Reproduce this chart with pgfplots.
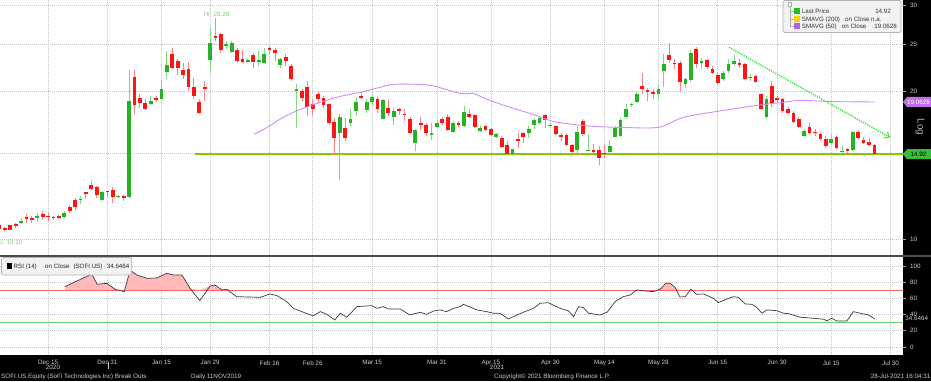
\documentclass[border=0pt]{standalone}
\usepackage{fontspec}
\setmainfont{Liberation Sans}
\usepackage{pgfplots}
\usepackage{pgfplotstable}
\pgfplotsset{compat=1.18}
\usetikzlibrary{arrows.meta}

\definecolor{bodyup}{RGB}{38,178,38}
\definecolor{bodydn}{RGB}{255,20,20}
\definecolor{wickup}{RGB}{130,215,130}
\definecolor{wickdn}{RGB}{255,130,130}
\definecolor{smac}{RGB}{205,140,255}
\definecolor{suppc}{RGB}{135,200,0}
\definecolor{trendc}{RGB}{60,230,60}
\definecolor{gridc}{RGB}{195,195,195}
\definecolor{tickc}{RGB}{205,205,205}
\definecolor{rsiline}{RGB}{60,60,60}
\definecolor{rsifill}{RGB}{255,185,185}
\definecolor{hilo}{RGB}{120,210,120}

\newcommand{\sm}{\fontsize{6.3pt}{7pt}\selectfont}
\newcommand{\lgdfont}{\fontsize{6.2pt}{7pt}\selectfont}

\pgfplotstableread{
x o h l c
-9 10.68 10.81 10.45 10.52
-8 10.56 10.60 10.40 10.45
-7 10.68 10.72 10.44 10.48
-6 10.74 10.81 10.56 10.65
-5 10.81 11.05 10.78 10.92
-4 11.10 11.28 10.81 11.02
-3 11.07 11.19 10.81 10.95
-2 11.07 11.34 10.85 11.16
-1 11.25 11.42 10.98 11.13
0 11.19 11.34 10.90 11.10
1 11.13 11.19 10.95 11.04
2 11.14 11.20 11.00 11.05
3 11.13 11.42 11.05 11.30
4 11.64 11.73 11.34 11.42
5 12.02 12.14 11.47 11.66
6 12.02 12.26 11.80 12.10
7 12.47 12.50 12.08 12.39
8 12.93 13.13 12.60 12.69
9 12.81 12.88 12.14 12.35
10 12.03 12.55 11.97 12.48
11 12.56 12.58 12.20 12.48
12 12.64 12.81 11.88 12.22
13 12.19 12.30 12.15 12.26
14 12.24 12.31 11.97 12.14
15 12.22 22.11 12.15 19.14
16 21.47 22.10 17.98 18.76
17 19.41 19.76 18.54 19.00
18 19.00 19.30 18.34 18.47
19 18.91 19.60 18.76 19.14
20 19.44 19.60 19.05 19.24
21 19.36 21.13 19.30 20.22
22 21.94 24.20 21.20 22.64
23 23.91 24.60 22.21 22.32
24 23.05 23.35 21.60 22.40
25 22.14 22.91 21.20 21.63
26 22.20 22.98 20.06 20.48
27 20.45 21.37 19.30 19.60
28 19.08 19.30 17.99 18.12
29 20.45 21.03 19.14 20.30
30 23.20 27.02 21.87 25.18
31 25.97 28.26 25.37 25.71
32 26.19 26.40 24.03 24.32
33 24.83 25.37 24.48 25.06
34 24.09 25.37 24.03 25.18
35 24.32 24.57 22.91 23.10
36 23.37 24.37 22.91 23.04
37 23.04 23.35 22.90 23.20
38 23.72 23.95 22.40 23.04
39 23.04 24.20 22.61 23.19
40 22.93 24.57 22.82 23.91
41 24.57 24.80 23.84 24.32
42 24.37 24.50 23.10 23.95
43 22.63 23.45 22.40 23.27
44 23.58 23.84 22.61 23.10
45 22.61 22.74 21.03 21.27
46 20.03 20.72 16.89 20.22
47 20.06 20.30 19.14 19.39
48 20.48 21.00 17.84 18.64
49 18.91 19.30 17.84 18.47
50 19.82 19.98 19.00 19.30
51 19.39 19.60 18.54 18.76
52 18.85 19.00 17.15 17.24
53 17.35 17.71 14.83 16.12
54 16.45 17.99 13.21 17.79
55 16.89 17.71 15.86 16.12
56 17.24 18.41 17.02 17.57
57 18.26 19.55 17.84 19.09
58 19.60 19.98 19.30 19.39
59 18.34 19.36 18.12 19.05
60 19.05 19.76 18.76 19.55
61 19.36 19.55 18.12 18.47
62 17.63 19.36 17.57 19.21
63 18.54 19.36 17.84 18.12
64 17.79 18.54 17.12 18.27
65 18.47 18.54 17.91 18.27
66 17.99 18.41 17.43 17.91
67 17.63 17.79 16.37 16.50
68 15.69 16.81 15.13 16.68
69 17.24 17.79 16.71 17.07
70 17.07 17.24 16.24 16.50
71 16.29 17.29 15.93 16.50
72 16.97 17.43 16.89 17.24
73 17.63 17.79 17.15 17.29
74 17.79 17.99 16.62 16.71
75 16.55 17.43 16.50 17.29
76 17.29 17.43 16.97 17.15
77 17.02 18.70 16.97 18.18
78 17.99 18.41 17.71 17.79
79 17.91 17.99 16.89 16.97
80 16.62 17.07 16.58 16.89
81 17.02 17.15 16.62 16.71
82 16.81 16.89 16.24 16.32
83 16.17 16.50 16.12 16.43
84 16.12 16.24 15.38 15.43
85 15.55 15.86 14.83 14.91
86 14.91 15.30 14.78 15.26
87 15.99 16.50 15.38 15.86
88 16.45 16.55 15.70 16.19
89 16.50 17.02 16.12 16.77
90 17.15 17.71 16.81 17.48
91 17.24 17.79 17.20 17.65
92 17.91 17.99 16.89 17.51
93 17.00 17.24 16.89 17.07
94 17.02 17.15 16.29 16.37
95 16.29 16.45 15.86 16.17
96 16.29 16.37 15.50 15.58
97 15.58 15.62 14.91 15.07
98 15.21 17.02 14.98 16.58
99 17.43 17.63 16.24 16.37
100 15.18 16.37 15.13 15.21
101 15.19 15.62 14.91 15.07
102 15.21 15.50 14.15 14.68
103 15.02 15.55 14.68 14.91
104 15.07 15.93 14.98 15.50
105 16.20 17.02 16.15 16.88
106 16.24 17.71 16.19 17.51
107 17.76 18.85 17.63 18.47
108 18.76 19.00 18.60 18.85
109 19.05 19.98 19.00 19.82
110 20.54 21.87 19.76 20.22
111 20.15 20.38 19.14 19.98
112 19.98 20.22 19.30 19.76
113 19.76 20.60 19.30 20.22
114 22.04 23.84 20.48 22.74
115 23.72 25.10 22.91 23.20
116 22.91 23.35 22.21 22.74
117 22.91 23.10 20.06 20.93
118 20.72 21.37 20.38 21.21
119 21.09 24.32 20.90 23.95
120 24.40 24.70 22.40 22.82
121 22.91 23.45 22.27 23.10
122 23.19 23.35 22.21 22.46
123 22.27 22.61 21.70 21.87
124 21.60 21.79 20.72 20.80
125 21.20 22.04 21.03 21.87
126 22.04 23.27 21.87 22.74
127 22.74 23.72 22.61 23.10
128 22.91 23.27 22.40 22.64
129 22.82 22.91 21.13 21.20
130 21.35 21.70 21.03 21.43
131 21.53 21.60 20.87 20.93
132 19.76 19.91 18.41 18.47
133 17.79 19.60 17.57 19.30
134 20.54 21.03 18.60 18.85
135 19.41 19.60 19.00 19.20
136 19.36 19.44 18.12 18.27
137 18.41 18.62 17.99 18.12
138 18.12 18.27 17.29 17.35
139 17.63 17.79 16.89 16.97
140 16.24 16.81 16.19 16.62
141 16.97 17.29 16.37 16.45
142 16.55 16.77 16.24 16.45
143 16.43 16.55 15.86 16.05
144 16.05 16.24 15.38 15.50
145 15.70 16.37 15.62 15.99
146 16.17 16.24 15.26 15.38
147 15.07 15.50 14.98 15.11
148 15.26 15.38 15.02 15.13
149 15.21 16.62 15.13 16.55
150 16.55 16.71 15.99 16.12
151 15.93 16.19 15.62 15.73
152 15.78 16.12 15.50 15.55
153 15.55 15.62 14.91 14.92
}\ohlc

\pgfplotstableread{
x s
38.1 16.37
40.6 16.92
43.5 17.73
46.7 18.41
50.4 19.03
54.1 19.57
57.8 19.94
61.5 20.42
64.3 20.71
70.7 20.61
76.3 19.84
78.7 19.84
81.3 19.30
85.0 18.67
89.8 17.98
93.5 17.40
97.2 17.16
100.9 17.00
105.9 16.92
113.0 16.92
117.6 17.73
123.9 18.24
131.3 18.76
136.1 19.03
139.3 19.21
145.0 19.10
153.1 19.06
}\sma

\pgfplotstableread{
x r
3.1 74.5
8.1 90
9.1 77.4
10.9 78.6
12.4 71.2
14.1 68.3
15.2 95
16.4 88.9
18.3 84.8
20.1 85.2
22.0 91
23.2 88.9
24.8 88.9
26.3 72.4
28.1 57.2
30.0 75.3
30.9 76.5
32.2 70.4
33.1 71.2
34.9 62.1
39.3 61.3
41.1 65.4
42.4 63.3
44.2 56
45.4 47.7
47.3 42.8
49.1 38.3
50.4 43.6
51.6 40.3
53.1 33.3
54.1 41.6
55.3 36.7
57.2 49.8
59.0 50.6
59.9 51
60.9 47.7
62.1 49.8
63.0 46.9
65.2 46.9
67.0 39.5
68.9 42.8
70.1 40.3
71.4 44.4
72.6 45.7
73.8 43.6
75.1 47.7
76.3 49.8
76.9 52.7
79.4 45.7
81.2 43.6
82.5 41.6
83.7 41.6
85.2 34.6
88.0 42.8
89.9 47.7
91.1 53.9
92.6 54.7
94.8 47.7
96.4 44.4
97.3 37.4
98.2 49.8
99.1 48.5
100.1 41.6
102.2 39.5
103.5 42.8
105.0 56
106.5 62.1
107.8 64.2
109.0 70.4
110.6 69.1
112.1 68.3
113.3 71.2
114.4 78.6
115.2 78.6
116.1 73.7
117.0 61.7
118.0 62.1
119.0 71.2
120.1 65
121.4 65.4
123.2 60.1
124.1 54.7
125.7 59.3
126.9 62.1
127.8 61.3
129.1 53.1
130.3 52.7
131.2 49
132.2 41.6
133.1 45.7
134.9 44.8
136.2 41.6
137.1 41.1
139.3 36.7
141.7 35.4
143.6 34.2
144.2 32.1
145.1 35.4
146.0 32.1
147.9 32.1
149.1 43.6
150.4 41.6
151.9 39.5
153.1 34.6464
}\rsi

\pgfplotstablegetrowsof{\ohlc}
\pgfmathtruncatemacro\lastrow{\pgfplotsretval-1}

\pgfplotsset{
  wickup/.style={color=wickup, line width=0.8pt, forget plot},
  wickdn/.style={color=wickdn, line width=0.8pt, forget plot},
  bodyup/.style={color=bodyup, line width=3.7pt, line cap=butt, forget plot},
  bodydn/.style={color=bodydn, line width=3.7pt, line cap=butt, forget plot},
  bbgrid/.style={
    scale only axis, width=903pt,
    xmin=-8.9, xmax=158.3,
    axis line style={draw=none},
    xtick={0,11,21,30,41,49,60,72,82,93,103,113,124,135,145,156},
    xtick style={draw=none},
    xmajorgrids, ymajorgrids,
    grid style={gridc, line width=0.6pt, dash pattern=on 0.8pt off 1.2pt},
    ytick pos=right, yticklabel pos=right,
    tick align=outside, major tick length=3pt,
    ytick style={draw=gray!70, line width=0.6pt},
    yticklabel style={font=\sm, text=tickc, xshift=0.5pt},
  },
}

\begin{document}
\begin{tikzpicture}
\useasboundingbox (0pt,0pt) rectangle (931pt,381pt);
\fill[black] (0pt,0pt) rectangle (931pt,381pt);
\fill[white] (0pt,26pt) rectangle (903pt,381pt);

% ---------- price panel ----------
\begin{axis}[bbgrid,
  at={(0pt,126pt)}, anchor=south west, height=255pt,
  ymode=log, ymin=9.30, ymax=30.75,
  ytick={10,15,20,25,30}, yticklabels={10,,20,25,30},
  yminorticks=false,
  xticklabels={},
]
\addplot[color=suppc, line width=2pt, forget plot] coordinates {(27.2,14.92) (158.3,14.92)};
\foreach \i in {0,...,\lastrow}{
  \pgfplotstablegetelem{\i}{x}\of\ohlc \let\cx\pgfplotsretval
  \pgfplotstablegetelem{\i}{o}\of\ohlc \let\co\pgfplotsretval
  \pgfplotstablegetelem{\i}{h}\of\ohlc \let\ch\pgfplotsretval
  \pgfplotstablegetelem{\i}{l}\of\ohlc \let\cl\pgfplotsretval
  \pgfplotstablegetelem{\i}{c}\of\ohlc \let\cc\pgfplotsretval
  \ifdim\cc pt>\co pt \def\kind{up}\else\def\kind{dn}\fi
  \edef\temp{\noexpand\addplot[wick\kind] coordinates {(\cx,\cl) (\cx,\ch)};
    \noexpand\addplot[body\kind] coordinates {(\cx,\co) (\cx,\cc)};}
  \temp
}
\addplot[color=smac, line width=0.9pt, smooth, forget plot] table[x=x, y=s] {\sma};
\addplot[color=trendc, line width=1.5pt, dash pattern=on 1.2pt off 1.2pt,
  -{Straight Barb[length=4pt, width=7pt, line width=1pt]}, forget plot]
  coordinates {(126.1,24.63) (155.9,16.14)};
\end{axis}

% ---------- RSI panel ----------
\begin{axis}[bbgrid,
  at={(0pt,26pt)}, anchor=south west, height=97.5pt,
  ymin=-10, ymax=110.5,
  ytick={0,20,40,60,80,100}, yticklabels={0,20,40,60,80,100},
  xticklabels={Dec 15,Dec 31,Jan 15,Jan 29,Feb 16,Feb 26,Mar 15,Mar 31,Apr 15,Apr 30,May 14,May 28,Jun 15,Jun 30,Jul 15,Jul 30},
  xticklabel style={font=\sm, text=tickc, yshift=1pt},
]
\addplot[fill=rsifill, draw=none, forget plot] table[x=x, y expr={max(\thisrow{r},70)}] {\rsi}
  -- (axis cs:153.1,70) -- (axis cs:3.1,70) -- cycle;
\addplot[color=red!60, line width=0.8pt, forget plot] coordinates {(-8.9,70) (158.3,70)};
\addplot[color=green!70!black!60!white, line width=0.8pt, forget plot] coordinates {(-8.9,30) (158.3,30)};
\addplot[color=rsiline, line width=0.7pt, forget plot] table[x=x, y=r] {\rsi};
\end{axis}

% separator between panels
\draw[line width=2.2pt, color=black!70] (0pt,125.3pt) -- (931pt,125.3pt);

% right-hand value boxes
\fill[color=smac!80!violet] (903pt,279pt) -- (907pt,284pt) -- (931pt,284pt) -- (931pt,274pt) -- (907pt,274pt) -- cycle;
\node[font=\sm, text=white, inner sep=0pt] at (918.5pt,279pt) {19.0628};
\fill[color=bodyup!90!white] (903pt,226.8pt) -- (907pt,231.8pt) -- (931pt,231.8pt) -- (931pt,221.8pt) -- (907pt,221.8pt) -- cycle;
\node[font=\sm, text=black, inner sep=0pt] at (918.5pt,226.8pt) {14.92};
\node[font=\fontsize{10pt}{12pt}\selectfont, text=gray!60, rotate=-90, inner sep=0pt] at (920pt,254pt) {Log};
\node[font=\sm, text=tickc, fill=black, inner sep=0.6pt, anchor=west] at (904.5pt,62.2pt) {34.6464};

% Hi / Lo labels
\node[font=\sm, text=hilo, inner sep=0pt] at (216.5pt,366.5pt) {Hi: 28.26};
\node[font=\sm, text=hilo, inner sep=0pt, anchor=east] at (22.7pt,138.5pt) {Lo: 10.10};

% price legend
\draw[rounded corners=1.5pt, fill=gray!10, draw=gray!60, line width=0.7pt] (783pt,348.5pt) rectangle (901pt,380.5pt);
\draw[gray!60, line width=0.4pt] (788pt,375pt) rectangle (791.5pt,378.5pt);
\draw[gray!60, line width=0.4pt] (789.75pt,375pt) -- (789.75pt,354.7pt) -- (794pt,354.7pt);
\draw[gray!60, line width=0.4pt] (789.75pt,362pt) -- (794pt,362pt);
\draw[gray!60, line width=0.4pt] (789.75pt,369.5pt) -- (794pt,369.5pt);
\fill[bodyup!80!green] (794pt,366.8pt) rectangle (800pt,372.5pt);
\fill[yellow!70!orange] (794pt,359.2pt) rectangle (800pt,364.9pt);
\fill[smac!70!violet] (794pt,351.9pt) rectangle (800pt,357.6pt);
\node[font=\lgdfont, text=black!80, anchor=base west, inner sep=0pt] at (801.7pt,367.3pt) {Last Price};
\node[font=\lgdfont, text=black!80, anchor=base east, inner sep=0pt] at (891pt,367.3pt) {14.92};
\node[font=\lgdfont, text=black!80, anchor=base west, inner sep=0pt] at (801.7pt,359.8pt) {SMAVG (200)};
\node[font=\lgdfont, text=black!80, anchor=base west, inner sep=0pt] at (845pt,359.8pt) {on Close};
\node[font=\lgdfont, text=black!80, anchor=base west, inner sep=0pt] at (871pt,359.8pt) {n.a.};
\node[font=\lgdfont, text=black!80, anchor=base west, inner sep=0pt] at (801.7pt,352.5pt) {SMAVG (50)};
\node[font=\lgdfont, text=black!80, anchor=base west, inner sep=0pt] at (841.7pt,352.5pt) {on Close};
\node[font=\lgdfont, text=black!80, anchor=base east, inner sep=0pt] at (897pt,352.5pt) {19.0628};

% RSI legend
\draw[rounded corners=1.5pt, fill=gray!10, draw=gray!60, line width=0.7pt] (1.5pt,106pt) rectangle (131.7pt,123.5pt);
\fill[black] (6.7pt,112pt) rectangle (11.7pt,117.7pt);
\node[font=\lgdfont, text=black!85, anchor=base west, inner sep=0pt] at (13.5pt,112.3pt) {RSI (14)};
\node[font=\lgdfont, text=black!85, anchor=base west, inner sep=0pt] at (45pt,112.3pt) {on Close};
\node[font=\lgdfont, text=black!85, anchor=base west, inner sep=0pt] at (73.3pt,112.3pt) {(SOFI US)};
\node[font=\lgdfont, text=black!85, anchor=base east, inner sep=0pt] at (129.5pt,112.3pt) {34.6464};

% year labels and footer
\node[font=\sm, text=tickc, inner sep=0pt] at (53pt,13.5pt) {2020};
\node[font=\sm, text=tickc, inner sep=0pt] at (497pt,13.5pt) {2021};
\draw[tickc, line width=0.5pt] (108pt,19pt) -- (108pt,12pt);
\node[font=\sm, text=tickc, anchor=west, inner sep=0pt] at (1pt,4.5pt) {SOFI US Equity (SoFi Technologies Inc) Break Outs};
\node[font=\sm, text=tickc, anchor=west, inner sep=0pt] at (191pt,4.5pt) {Daily 11NOV2019};
\node[font=\sm, text=tickc, anchor=west, inner sep=0pt] at (494pt,4.5pt) {Copyright© 2021 Bloomberg Finance L.P.};
\node[font=\sm, text=tickc, anchor=east, inner sep=0pt] at (930.5pt,4.5pt) {28-Jul-2021 16:04:31};
\end{tikzpicture}
\end{document}
